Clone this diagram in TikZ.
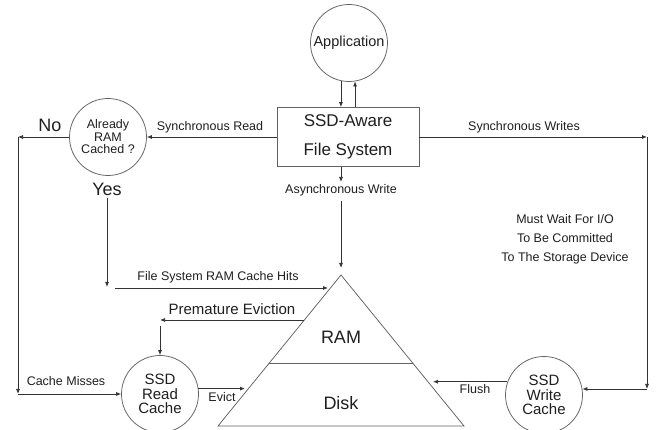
\documentclass[tikz,border=0pt]{standalone}
\usepackage{fontspec}
\setmainfont{Liberation Sans}
\usetikzlibrary{arrows.meta}
\definecolor{linec}{gray}{0.2}
\definecolor{edgec}{gray}{0.38}
\definecolor{textc}{gray}{0.12}
\begin{document}
\begin{tikzpicture}[x=1pt,y=-1pt,
  line/.style={draw=linec, line width=0.75pt},
  arr/.style={line, -{Latex[length=5pt,width=4pt]}},
  bubble/.style={circle, draw=edgec, line width=0.75pt, minimum size=77pt,
    inner sep=0pt, align=center, text=textc},
  lbl/.style={inner sep=0pt, text=textc, font=\fontsize{12.5}{14}\selectfont},
  biglbl/.style={inner sep=0pt, text=textc, font=\fontsize{18}{20}\selectfont}]
\useasboundingbox[fill=white] (0,0) rectangle (657,430);

% main blocks
\node[bubble, font=\fontsize{14.5}{16}\selectfont] (app) at (349,43) {Application};
\node[rectangle, draw=edgec, line width=0.75pt, minimum width=142pt, minimum height=59pt,
  inner sep=0pt, align=center, text=textc, font=\fontsize{17}{29}\selectfont]
  (fs) at (348,137) {SSD-Aware\\File System};
\node[bubble, font=\fontsize{12.5}{12.5}\selectfont] (cached) at (108,137) {Already\\RAM\\Cached ?};
\node[bubble, font=\fontsize{15}{14.5}\selectfont] (readc) at (160,394) {SSD\\Read\\Cache};
\node[bubble, font=\fontsize{15}{14.5}\selectfont] (writec) at (544,395) {SSD\\Write\\Cache};

% memory hierarchy triangle
\coordinate (apex) at (341,275);
\coordinate (tbl) at (218,426);
\coordinate (tbr) at (464,426);
\coordinate (ml) at (269.3,363);
\coordinate (mr) at (412.7,363);
\draw[draw=edgec, line width=0.75pt] (apex) -- (tbr) -- (tbl) -- cycle;
\draw[draw=edgec, line width=0.75pt] (ml) -- (mr);
\node[biglbl] (ram) at (341,337) {RAM};
\node[biglbl] (disk) at (341,403) {Disk};

% labels
\node[biglbl] (no) at (50,125) {No};
\node[biglbl] (yes) at (107,189) {Yes};
\node[lbl] (sread) at (210,127) {Synchronous Read};
\node[lbl] (swrite) at (524,127) {Synchronous Writes};
\node[lbl] (asw) at (341,190) {Asynchronous Write};
\node[lbl] (hits) at (218,277) {File System RAM Cache Hits};
\node[inner sep=0pt, text=textc, font=\fontsize{15}{16}\selectfont] (prem) at (232,309) {Premature Eviction};
\node[lbl] (miss) at (66,381) {Cache Misses};
\node[lbl] (evict) at (222,397) {Evict};
\node[lbl] (flush) at (475,389) {Flush};
\node[lbl, align=center, font=\fontsize{12.5}{19}\selectfont] (wait) at (565,239)
  {Must Wait For I/O\\To Be Committed\\To The Storage Device};

% connector corners
\coordinate (nc) at (18,137);
\coordinate (mc) at (18,394);
\coordinate (hc) at (107,287);
\coordinate (hs) at (115,288);
\coordinate (he) at (328,288);
\coordinate (ps) at (304,320);
\coordinate (pe) at (160,320);
\coordinate (pd) at (160,326);
\coordinate (ee) at (245,388);
\coordinate (fe) at (433,382);
\coordinate (wc) at (647,137);
\coordinate (wb) at (647,389);

% application <-> file system
\draw[arr] (app.258) -- (app.258 |- fs.north);
\draw[arr] (app.279 |- fs.north) -- (app.279);

% read path
\draw[arr] (fs.west) -- (cached.east);
\draw[arr] (cached.west) -- (nc);
\draw[arr] (nc) -- (mc);
\draw[arr] (mc) -- (readc.west);
\draw[arr, shorten <=3pt] (yes.south) -- (hc);
\draw[arr] (hs) -- (he);
\draw[arr] (ps) -- (pe);
\draw[arr] (pd) -- (readc.north);
\draw[arr] (readc.8) -- (readc.8 -| ee);

% write paths
\draw[arr, shorten >=2pt] (asw |- fs.south) -- (asw.north);
\draw[arr, shorten <=5pt, shorten >=7pt] (asw.south) -- (apex);
\draw[arr] (fs.east) -- (wc);
\draw[arr] (wc) -- (wb);
\draw[arr] (wb) -- (wb -| writec.9);
\draw[arr] (writec.160) -- (writec.160 -| fe);
\end{tikzpicture}
\end{document}
